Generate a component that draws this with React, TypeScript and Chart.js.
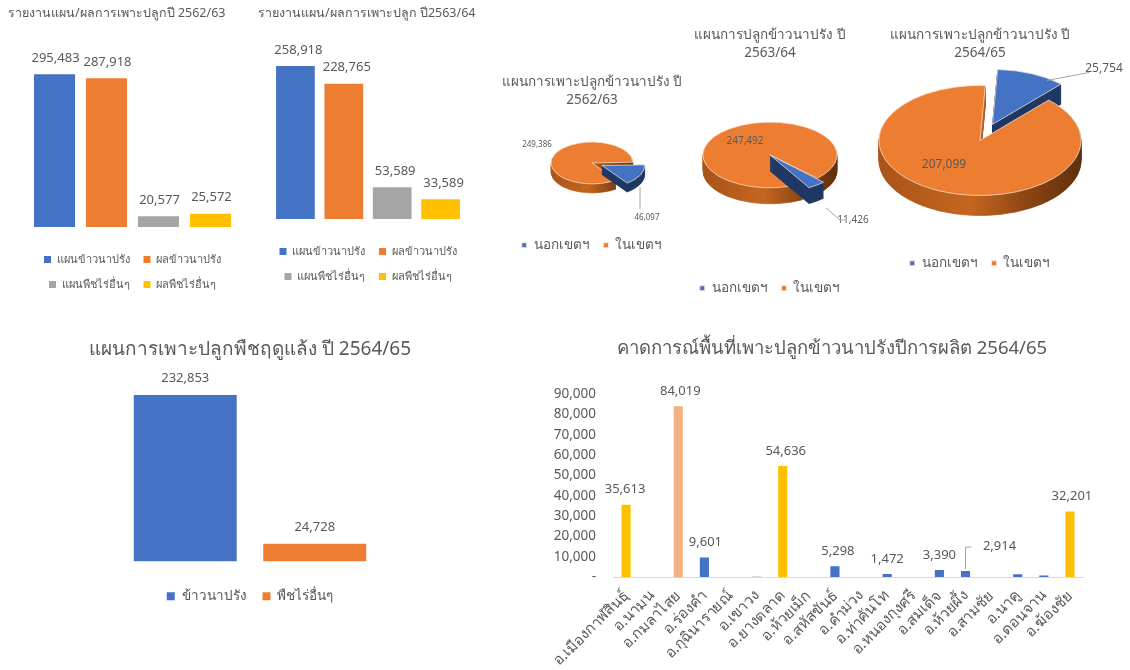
import React, { useEffect, useRef } from "react";
import { Chart, registerables } from "chart.js";

Chart.register(...registerables);

const FONT = '"Noto Sans", "Liberation Sans", sans-serif';
const TEXT = "#595959";
const BLUE = "#4472C4";
const ORANGE = "#ED7D31";
const GREY = "#A5A5A5";
const YELLOW = "#FFC000";
const PALE = "#F4B183";

const barSeries = ["แผนข้าวนาปรัง", "ผลข้าวนาปรัง", "แผนพืชไร่อื่นๆ", "ผลพืชไร่อื่นๆ"];
const values6263 = [295483, 287918, 20577, 25572];
const values6364 = [258918, 228765, 53589, 33589];
const dryLabels = ["ข้าวนาปรัง", "พืชไร่อื่นๆ"];
const dryValues = [232853, 24728];

const pieLabels = ["นอกเขตฯ", "ในเขตฯ"];
const pie6263 = [46097, 249386];
const pie6364 = [11426, 247492];
const pie6465 = [25754, 207099];

const districts = [
  "อ.เมืองกาฬสินธุ์", "อ.นามน", "อ.กมลาไสย", "อ.ร่องคำ", "อ.กุฉินารายณ์", "อ.เขาวง",
  "อ.ยางตลาด", "อ.ห้วยเม็ก", "อ.สหัสขันธ์", "อ.คำม่วง", "อ.ท่าคันโท", "อ.หนองกุงศรี",
  "อ.สมเด็จ", "อ.ห้วยผึ้ง", "อ.สามชัย", "อ.นาคู", "อ.ดอนจาน", "อ.ฆ้องชัย",
];
const districtValues = [35613, 0, 84019, 9601, 0, 500, 54636, 0, 5298, 0, 1472, 0, 3390, 2914, 0, 1400, 700, 32201];
const districtShown = [35613, 84019, 9601, 54636, 5298, 1472, 3390, 2914, 32201];
const districtColors = [
  YELLOW, BLUE, PALE, BLUE, BLUE, "#D9D9D9", YELLOW, BLUE, BLUE, BLUE, BLUE, BLUE, BLUE, BLUE, BLUE, BLUE, BLUE, YELLOW,
];

const fmt = (v: number) => v.toLocaleString("en-US");

// value labels over bars
const barLabelPlugin = {
  id: "barLabels",
  afterDatasetsDraw(chart: any, _a: any, o: any) {
    const ctx = chart.ctx;
    ctx.save();
    ctx.fillStyle = TEXT;
    ctx.font = `${o.size || 13}px ${FONT}`;
    ctx.textAlign = "center";
    ctx.textBaseline = "middle";
    chart.data.datasets.forEach((ds: any, di: number) => {
      chart.getDatasetMeta(di).data.forEach((el: any, i: number) => {
        const v = ds.data[i];
        if (o.only && !o.only.includes(v)) return;
        const adj = (o.adjust && o.adjust[v]) || [o.dx || 0, 0];
        ctx.fillText(fmt(v), el.x + adj[0], el.y - (o.gap || 16) + adj[1]);
        if (o.leader && o.leader[v]) {
          const [dy, dx] = o.leader[v];
          ctx.strokeStyle = "#A6A6A6";
          ctx.lineWidth = 1;
          ctx.beginPath();
          ctx.moveTo(el.x, el.y - 2);
          ctx.lineTo(el.x, el.y - dy);
          ctx.lineTo(el.x + dx, el.y - dy);
          ctx.stroke();
        }
      });
    });
    ctx.restore();
  },
};

// tilted pie with a side wall, drawn through the library's arc elements
const pie3dPlugin = {
  id: "pie3d",
  beforeDatasetDraw(chart: any, args: any, o: any) {
    const ctx = chart.ctx;
    const meta = chart.getDatasetMeta(args.index);
    const first = meta.data[0];
    const cx = first.x;
    const cy = first.y;
    const r = o.radius;
    const shift = o.shiftY;
    const sideFills = [
      "#1F3864",
      (() => {
        const g = ctx.createLinearGradient(cx - r, 0, cx + r, 0);
        g.addColorStop(0, "#A9541A");
        g.addColorStop(0.45, "#C4661F");
        g.addColorStop(0.75, "#8A4313");
        g.addColorStop(1, "#5F2F0C");
        return g;
      })(),
    ];
    const place = (i: number, depth: number) => {
      const ex = o.explode[i] || 0;
      const el = meta.data[i];
      const mid = (el.startAngle + el.endAngle) / 2;
      ctx.translate(cx, cy + shift + depth);
      ctx.scale(1, o.tilt);
      ctx.translate(-cx, -cy);
      ctx.translate(Math.cos(mid) * ex, Math.sin(mid) * ex);
    };
    o.order.forEach((i: number) => {
      const el = meta.data[i];
      const saved = el.options;
      for (let d = o.depth; d >= 1; d--) {
        ctx.save();
        place(i, d);
        el.options = { ...saved, backgroundColor: sideFills[i], borderColor: sideFills[i], borderWidth: 1 };
        el.draw(ctx);
        ctx.restore();
      }
      el.options = saved;
      ctx.save();
      place(i, 0);
      el.draw(ctx);
      ctx.restore();
    });
    // value labels and leaders
    ctx.save();
    ctx.fillStyle = TEXT;
    ctx.font = `${o.labelSize}px ${FONT}`;
    ctx.textAlign = "center";
    ctx.textBaseline = "middle";
    o.labels.forEach((l: any) => {
      ctx.fillText(fmt(l.v), cx + l.dx, cy + shift + l.dy);
      if (l.line) {
        ctx.strokeStyle = "#A6A6A6";
        ctx.lineWidth = 1;
        ctx.beginPath();
        l.line.forEach((p: number[], k: number) => {
          if (k === 0) ctx.moveTo(cx + p[0], cy + shift + p[1]);
          else ctx.lineTo(cx + p[0], cy + shift + p[1]);
        });
        ctx.stroke();
      }
    });
    ctx.restore();
    return false;
  },
};

function barConfig(opts: any) {
  const { title, titleSize, titlePad, align, labels, values, colors, max, cat, bar, axisH, legendFont, legendPad, box, labelSize, gap, dx } = opts;
  return {
    type: "bar",
    plugins: [barLabelPlugin],
    data: {
      labels: [""],
      datasets: labels.map((l: string, i: number) => ({
        label: l,
        data: [values[i]],
        backgroundColor: colors[i],
        categoryPercentage: cat,
        barPercentage: bar,
      })),
    },
    options: {
      responsive: false,
      animation: false,
      events: [],
      layout: { padding: 0 },
      scales: {
        x: {
          display: true,
          ticks: { display: false },
          grid: { display: false },
          border: { display: false },
          afterFit: (s: any) => { s.height = axisH; },
        },
        y: { display: false, min: 0, max },
      },
      plugins: {
        tooltip: { enabled: false },
        barLabels: { size: labelSize, gap, dx },
        title: {
          display: true,
          text: title,
          align,
          color: TEXT,
          font: { family: FONT, size: titleSize, weight: "normal" },
          padding: titlePad,
        },
        legend: {
          display: true,
          position: "bottom",
          labels: {
            color: TEXT,
            font: { family: FONT, size: legendFont },
            boxWidth: box,
            boxHeight: box,
            padding: legendPad,
          },
        },
      },
    },
  };
}

function pieConfig(opts: any) {
  const { title, values, radius, rotation, offset, explode, tilt, depth, shiftY, order, labels, labelSize, legendPad, titleSize } = opts;
  return {
    type: "pie",
    plugins: [pie3dPlugin],
    data: {
      labels: pieLabels,
      datasets: [{
        data: values,
        backgroundColor: [BLUE, ORANGE],
        borderColor: "#F6E3D2",
        borderWidth: 1,
        offset,
      }],
    },
    options: {
      responsive: false,
      animation: false,
      events: [],
      rotation,
      radius,
      plugins: {
        tooltip: { enabled: false },
        pie3d: { radius, explode, tilt, depth, shiftY, order, labels, labelSize },
        title: {
          display: true,
          text: title,
          color: TEXT,
          font: { family: FONT, size: titleSize, weight: "normal", lineHeight: 1.35 },
          padding: { top: 2, bottom: 4 },
        },
        legend: {
          display: true,
          position: "bottom",
          labels: {
            color: TEXT,
            font: { family: FONT, size: 13.5 },
            boxWidth: 5,
            boxHeight: 5,
            padding: legendPad,
          },
        },
      },
    },
  };
}

const districtConfig = {
  type: "bar",
  plugins: [barLabelPlugin],
  data: {
    labels: districts,
    datasets: [{ data: districtValues, backgroundColor: districtColors, categoryPercentage: 1, barPercentage: 0.35 }],
  },
  options: {
    responsive: false,
    animation: false,
    events: [],
    layout: { padding: 0 },
    scales: {
      x: {
        grid: { display: false, drawTicks: false },
        border: { color: "#D9D9D9" },
        ticks: { color: TEXT, font: { family: FONT, size: 15 }, maxRotation: 45, minRotation: 45, autoSkip: false, padding: 10 },
        afterFit: (s: any) => { s.height = 93; },
      },
      y: {
        min: 0,
        max: 90000,
        grid: { display: false },
        border: { display: false },
        ticks: {
          stepSize: 10000,
          color: TEXT,
          font: { family: FONT, size: 13.5 },
          padding: 9,
          callback: (v: number) => (v === 0 ? "-" : fmt(v)),
        },
        afterFit: (s: any) => { s.width = 73; },
      },
      pad: {
        position: "right",
        display: true,
        ticks: { display: false },
        grid: { display: false },
        border: { display: false },
        afterFit: (s: any) => { s.width = 41; },
      },
    },
    plugins: {
      legend: { display: false },
      tooltip: { enabled: false },
      barLabels: {
        size: 13,
        gap: 15,
        only: districtShown,
        adjust: { 2914: [34, -10], 35613: [-1, 0], 5298: [3, 0], 9601: [1, 0], 54636: [3, 0], 84019: [2, 0], 32201: [2, 0] },
        leader: { 2914: [24, 6] },
      },
      title: {
        display: true,
        text: "คาดการณ์พื้นที่เพาะปลูกข้าวนาปรังปีการผลิต 2564/65",
        color: TEXT,
        font: { family: FONT, size: 18.5, weight: "normal" },
        padding: { top: 8, bottom: 34 },
      },
    },
  },
};

const panels: any[] = [
  {
    x: 8, y: 0, w: 249, h: 300,
    config: barConfig({
      title: "รายงานแผน/ผลการเพาะปลูกปี 2562/63", titleSize: 12.5, titlePad: { top: 6, bottom: 20 }, align: "start",
      labels: barSeries, values: values6263, colors: [BLUE, ORANGE, GREY, YELLOW], max: 360000,
      cat: 0.835, bar: 0.79, axisH: 13, legendFont: 11, legendPad: 14, box: 7, labelSize: 13, gap: 16, dx: 1,
    }),
  },
  {
    x: 258, y: 0, w: 220, h: 292,
    config: barConfig({
      title: "รายงานแผน/ผลการเพาะปลูก ปี2563/64", titleSize: 12.5, titlePad: { top: 6, bottom: 20 }, align: "start",
      labels: barSeries, values: values6364, colors: [BLUE, ORANGE, GREY, YELLOW], max: 301000,
      cat: 0.88, bar: 0.8, axisH: 13, legendFont: 11, legendPad: 14, box: 7, labelSize: 13, gap: 16, dx: 3,
    }),
  },
  {
    x: 492, y: 71, w: 200, h: 191,
    config: pieConfig({
      title: ["แผนการเพาะปลูกข้าวนาปรัง ปี", "2562/63"], titleSize: 13.5, values: pie6263, radius: 41, rotation: 88,
      offset: [44, 0], explode: [0, 0], tilt: 0.51, depth: 9, shiftY: -6, order: [1, 0], labelSize: 8, legendPad: 14,
      labels: [
        { v: 249386, dx: -55, dy: -18 },
        { v: 46097, dx: 55, dy: 55, line: [[48, 24], [48, 46]] },
      ],
    }),
  },
  {
    x: 640, y: 24, w: 260, h: 281,
    config: pieConfig({
      title: ["แผนการปลูกข้าวนาปรัง ปี", "2563/64"], titleSize: 13.5, values: pie6364, radius: 67, rotation: 135,
      offset: [56, 0], explode: [-14, 0], tilt: 0.49, depth: 16, shiftY: -12, order: [1, 0], labelSize: 10, legendPad: 14,
      labels: [
        { v: 247492, dx: -25, dy: -14 },
        { v: 11426, dx: 83, dy: 65, line: [[56, 53], [70, 65], [75, 65]] },
      ],
    }),
  },
  {
    x: 830, y: 24, w: 300, h: 256,
    config: pieConfig({
      title: ["แผนการเพาะปลูกข้าวนาปรัง ปี", "2564/65"], titleSize: 13.5, values: pie6465, radius: 101, rotation: 3,
      offset: [0, 0], explode: [32, 0], tilt: 0.545, depth: 20, shiftY: -14, order: [0, 1], labelSize: 12, legendPad: 14,
      labels: [
        { v: 207099, dx: -36, dy: 24 },
        { v: 25754, dx: 124, dy: -72, line: [[67, -60], [109, -68]] },
      ],
    }),
  },
  {
    x: 50, y: 335, w: 400, h: 278,
    config: barConfig({
      title: "แผนการเพาะปลูกพืชฤดูแล้ง ปี 2564/65", titleSize: 19, titlePad: { top: 3, bottom: 10 }, align: "center",
      labels: dryLabels, values: dryValues, colors: [BLUE, ORANGE], max: 266500,
      cat: 0.6475, bar: 0.795, axisH: 12, legendFont: 13.5, legendPad: 16, box: 8, labelSize: 13, gap: 17,
    }),
  },
  { x: 540, y: 330, w: 584, h: 340, config: districtConfig },
];

function Panel({ p }: { p: any }) {
  const ref = useRef<HTMLCanvasElement | null>(null);
  useEffect(() => {
    const chart = new Chart(ref.current as HTMLCanvasElement, p.config);
    return () => chart.destroy();
  }, [p]);
  return (
    <canvas
      ref={ref}
      width={p.w}
      height={p.h}
      style={{ position: "absolute", left: p.x, top: p.y, width: p.w, height: p.h }}
    />
  );
}

export default function App() {
  return (
    <div style={{ position: "fixed", left: 0, top: 0, width: 1130, height: 670, background: "#fff", overflow: "hidden" }}>
      {panels.map((p, i) => <Panel key={i} p={p} />)}
    </div>
  );
}
